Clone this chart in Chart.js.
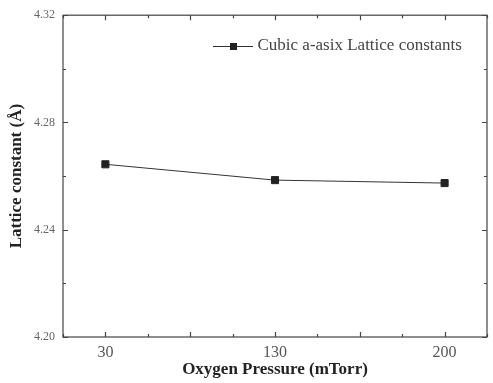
<!DOCTYPE html>
<html>
<head>
<meta charset="utf-8">
<script src="https://cdn.jsdelivr.net/npm/chart.js@4"></script>
<style>
  html, body { margin: 0; padding: 0; background: #fff; }
</style>
</head>
<body>
<canvas id="chart" width="493" height="383"></canvas>
<script>
const categories = ["30", "130", "200"];
const latticeValues = [4.2644, 4.2585, 4.2574];
const seriesLabel = "Cubic a-asix Lattice constants";
const yMin = 4.20;
const yMax = 4.32;

// legend icon: short line with a square in the middle
const legendIcon = document.createElement("canvas");
legendIcon.width = 40;
legendIcon.height = 8;
const ictx = legendIcon.getContext("2d");
ictx.strokeStyle = "#333";
ictx.lineWidth = 1;
ictx.beginPath();
ictx.moveTo(0, 4.5);
ictx.lineTo(40, 4.5);
ictx.stroke();
ictx.fillStyle = "#222";
ictx.fillRect(17, 1, 7, 7);

// frame + inward ticks on all four sides, legend moved into upper right
const frameTicks = {
  id: "frameTicks",
  afterLayout(chart) {
    const lg = chart.legend;
    if (!lg) return;
    const w = lg.width, h = lg.height;
    lg.left = 207;
    lg.top = 27.5;
    lg.right = lg.left + w;
    lg.bottom = lg.top + h;
  },
  afterDatasetsDraw(chart) {
    const { ctx, chartArea: a, scales } = chart;
    ctx.save();
    ctx.strokeStyle = "#444";
    ctx.lineWidth = 1.2;
    ctx.strokeRect(a.left, a.top, a.right - a.left, a.bottom - a.top);
    ctx.beginPath();
    scales.x.ticks.forEach(t => {
      const px = Math.round(scales.x.getPixelForValue(t.value)) + 0.5;
      const major = Math.abs(t.value * 2 - Math.round(t.value * 2)) < 1e-6;
      const len = major ? 5 : 3;
      ctx.moveTo(px, a.bottom); ctx.lineTo(px, a.bottom - len);
      ctx.moveTo(px, a.top); ctx.lineTo(px, a.top + len);
    });
    scales.y.ticks.forEach(t => {
      const py = Math.round(scales.y.getPixelForValue(t.value)) + 0.5;
      const major = Math.abs(t.value / 0.04 - Math.round(t.value / 0.04)) < 1e-6;
      const len = major ? 5 : 3;
      ctx.moveTo(a.left, py); ctx.lineTo(a.left + len, py);
      ctx.moveTo(a.right, py); ctx.lineTo(a.right - len, py);
    });
    ctx.stroke();
    ctx.restore();
  }
};

new Chart(document.getElementById("chart"), {
  type: "line",
  data: {
    datasets: [
      {
        label: seriesLabel,
        data: categories.map((c, i) => ({ x: i, y: latticeValues[i] })),
        borderColor: "#333",
        borderWidth: 1,
        pointStyle: "rect",
        pointRadius: 5,
        pointBackgroundColor: "#222",
        pointBorderColor: "#222",
        tension: 0
      }
    ]
  },
  options: {
    responsive: false,
    animation: false,
    layout: { padding: { top: 13, right: 2, left: 0, bottom: 0 } },
    plugins: {
      tooltip: { enabled: false },
      legend: {
        position: "chartArea",
        align: "start",
        labels: {
          usePointStyle: true,
          pointStyle: legendIcon,
          pointStyleWidth: 32,
          padding: 10,
          color: "#444",
          font: { family: "Liberation Serif", size: 17 }
        }
      }
    },
    scales: {
      x: {
        type: "linear",
        min: -0.25,
        max: 2.25,
        afterFit: s => { s.height = 46; },
        ticks: {
          stepSize: 0.25,
          autoSkip: false,
          maxRotation: 0,
          padding: 6,
          color: "#555",
          font: { family: "Liberation Serif", size: 16 },
          callback: v => {
            const i = Math.round(v);
            return Math.abs(v - i) < 1e-6 && i >= 0 && i < categories.length ? categories[i] : "";
          }
        },
        grid: { display: false, drawTicks: false },
        border: { display: false },
        title: {
          display: true,
          text: "Oxygen Pressure (mTorr)",
          color: "#222",
          font: { family: "Liberation Serif", size: 17, weight: "bold" },
          padding: { top: 0, bottom: 3 }
        }
      },
      y: {
        min: yMin,
        max: yMax,
        afterFit: s => { s.width = 63; },
        ticks: {
          stepSize: 0.02,
          autoSkip: false,
          padding: 8,
          color: "#666",
          font: { family: "Liberation Serif", size: 12 },
          callback: v => Math.abs(v / 0.04 - Math.round(v / 0.04)) < 1e-6 ? v.toFixed(2) : ""
        },
        grid: { display: false, drawTicks: false },
        border: { display: false },
        title: {
          display: true,
          text: "Lattice constant (Å)",
          color: "#222",
          font: { family: "Liberation Serif", size: 17, weight: "bold" },
          padding: { top: 6, bottom: 0 }
        }
      }
    }
  },
  plugins: [frameTicks]
});
</script>
</body>
</html>
